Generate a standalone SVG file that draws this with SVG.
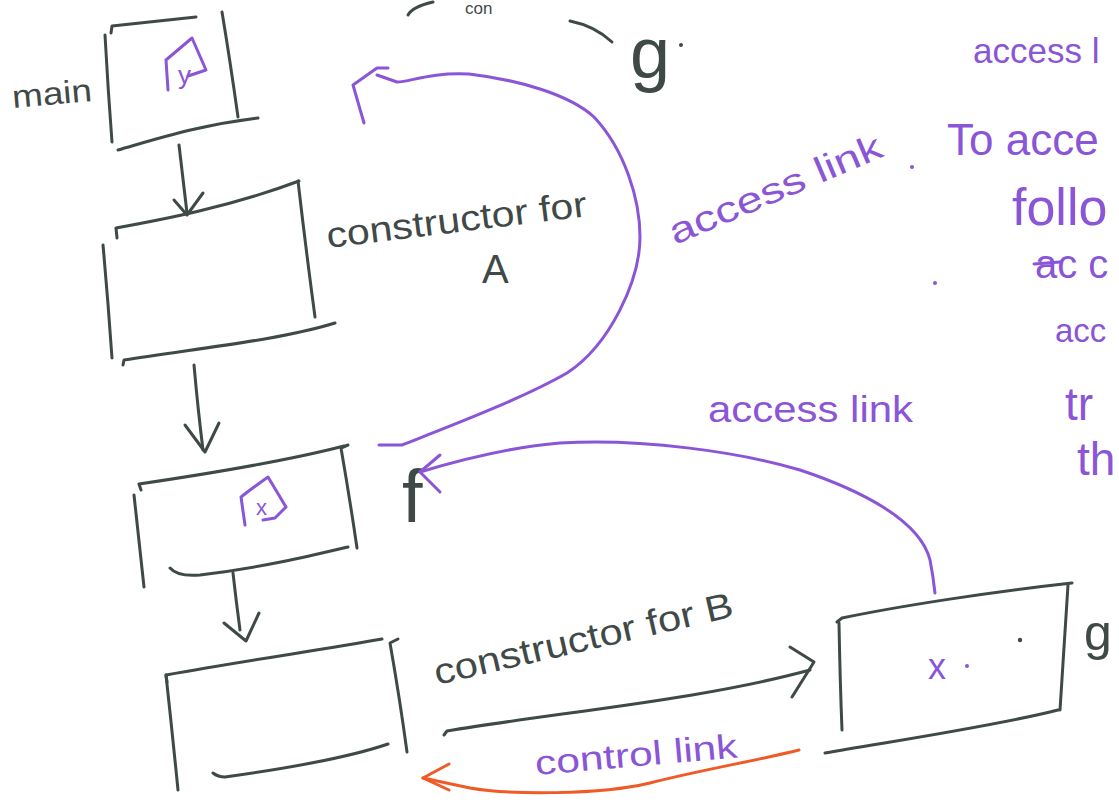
<svg xmlns="http://www.w3.org/2000/svg" width="1119" height="802" viewBox="0 0 1119 802">
  <style>
    .ink { fill: none; stroke: #3f4a48; stroke-width: 3; stroke-linecap: round; stroke-linejoin: round; }
    .pen { fill: none; stroke: #8a55d6; stroke-width: 3; stroke-linecap: round; stroke-linejoin: round; }
    .red { fill: none; stroke: #ef5a26; stroke-width: 3; stroke-linecap: round; stroke-linejoin: round; }
    .t  { font-family: "Liberation Sans", "DejaVu Sans", sans-serif; }
    .td { fill: #3f4a48; }
    .tp { fill: #8a55d6; }
  </style>
  <rect width="1119" height="802" fill="#ffffff"/>

  <!-- stray strokes along the top edge -->
  <g id="top-scraps">
    <path class="ink" d="M408,15 Q412,7 433,2"/>
    <text class="t td" x="465" y="14" font-size="17">con</text>
    <path class="ink" d="M570,21 Q595,26 612,42"/>
    <text class="t td" x="630" y="78" font-size="72">g</text>
    <circle cx="681" cy="45" r="2" fill="#3f4a48"/>
  </g>

  <!-- activation record: main -->
  <g id="main">
    <text class="t td" x="13" y="108" font-size="32" textLength="80" lengthAdjust="spacingAndGlyphs" transform="rotate(-5 13 108)">main</text>
    <path class="ink" d="M105,35 Q108,90 112,142"/>
    <path class="ink" d="M111,33 L112,26 Q150,22 196,17"/>
    <path class="ink" d="M222,12 Q230,60 238,117"/>
    <path class="ink" d="M118,150 C160,138 200,125 258,118"/>
    <path class="pen" d="M168,90 L166,60 L192,38 L206,70 L188,76"/>
    <text class="t tp" x="178" y="84" font-size="26">y</text>
  </g>

  <!-- activation record: constructor for A -->
  <g id="ctor-a">
    <path class="ink" d="M117,238 L116,228 C160,220 230,207 299,181"/>
    <path class="ink" d="M298,181 Q306,250 315,317"/>
    <path class="ink" d="M103,245 Q108,300 112,358"/>
    <path class="ink" d="M123,365 L124,360 C200,348 280,340 335,323"/>
    <text class="t td" x="328" y="248" font-size="36" textLength="262" lengthAdjust="spacingAndGlyphs" transform="rotate(-7 328 248)">constructor for</text>
    <text class="t td" x="482" y="283" font-size="40">A</text>
  </g>

  <!-- activation record: f -->
  <g id="f">
    <path class="ink" d="M141,490 L139,484 C200,475 290,460 344,446"/>
    <path class="ink" d="M348,445 L341,448 Q350,500 357,548"/>
    <path class="ink" d="M134,495 Q139,540 144,587"/>
    <path class="ink" d="M170,568 Q178,577 200,575 C260,568 310,556 348,547"/>
    <path class="pen" d="M245,525 L241,497 L250,490 L268,477 L286,507 L275,518 L263,520"/>
    <text class="t tp" x="256" y="515" font-size="22">x</text>
    <text class="t td" x="402" y="522" font-size="74">f</text>
  </g>

  <!-- activation record: constructor for B -->
  <g id="ctor-b">
    <path class="ink" d="M167,682 L166,675 C250,660 320,650 382,639"/>
    <path class="ink" d="M398,639 L390,643 Q400,700 407,752"/>
    <path class="ink" d="M166,675 Q172,730 178,790"/>
    <path class="ink" d="M213,773 Q218,777 225,777 C290,768 350,757 388,744"/>
    <text class="t td" x="437" y="685" font-size="36" textLength="306" lengthAdjust="spacingAndGlyphs" transform="rotate(-13 437 685)">constructor for B</text>
  </g>

  <!-- activation record: g -->
  <g id="g">
    <path class="ink" d="M837,622 L842,618 C900,606 990,592 1072,583"/>
    <path class="ink" d="M1068,585 Q1064,650 1060,710"/>
    <path class="ink" d="M839,623 Q840,680 842,730"/>
    <path class="ink" d="M825,753 C900,740 1000,725 1058,710"/>
    <text class="t tp" x="928" y="679" font-size="36">x</text>
    <circle cx="967" cy="666" r="2" fill="#8a55d6"/>
    <circle cx="1020" cy="640" r="2.2" fill="#3f4a48"/>
    <text class="t td" x="1084" y="650" font-size="50">g</text>
  </g>

  <!-- links between records -->
  <g id="connectors">
    <!-- call chain -->
    <path class="ink" d="M179,145 Q183,180 187,213"/>
    <path class="ink" d="M174,200 L187,215 L203,193"/>
    <path class="ink" d="M194,365 Q198,410 203,450"/>
    <path class="ink" d="M185,425 L205,452 L219,423"/>
    <path class="ink" d="M233,573 Q236,600 240,630"/>
    <path class="ink" d="M224,623 L246,641 L259,613"/>
    <path class="ink" d="M444,735 L447,731 C560,712 700,700 810,670"/>
    <path class="ink" d="M790,647 L814,662 L792,697"/>

    <!-- access link from f back up to main -->
    <path class="pen" d="M379,445 L402,445 C440,430 520,400 567,373 C610,345 640,280 640,237 C640,200 625,150 594,117 C570,95 520,80 469,74 C430,72 410,82 397,82 L377,75"/>
    <path class="pen" d="M388,68 L377,68 L353,85 L364,123"/>

    <!-- access link from g to f -->
    <path class="pen" d="M935,593 Q933,575 930,560 C920,520 860,490 800,470 C740,452 640,438 560,443 C510,447 460,460 420,472"/>
    <path class="pen" d="M440,455 L420,472 L440,492"/>

    <!-- control link from g back to constructor for B -->
    <path class="red" d="M799,750 C760,760 700,770 650,783 C600,795 510,795 470,788 L423,778"/>
    <path class="red" d="M449,764 L423,778 L449,790"/>
  </g>

  <!-- link labels and notes -->
  <g id="labels">
    <text class="t tp" x="675" y="245" font-size="36" textLength="228" lengthAdjust="spacingAndGlyphs" transform="rotate(-23 675 245)">access link</text>
    <circle cx="912" cy="167" r="2" fill="#8a55d6"/>
    <text class="t tp" x="708" y="422" font-size="36" textLength="205" lengthAdjust="spacingAndGlyphs">access link</text>
    <text class="t tp" x="536" y="775" font-size="34" textLength="203" lengthAdjust="spacingAndGlyphs" transform="rotate(-5 536 775)">control link</text>

    <text class="t tp" x="973" y="63" font-size="35">access l</text>
    <text class="t tp" x="947" y="155" font-size="44">To acce</text>
    <text class="t tp" x="1012" y="225" font-size="52">follo</text>
    <text class="t tp" x="1035" y="278" font-size="40">ac c</text>
    <path class="pen" d="M1034,264 L1060,262"/>
    <circle cx="935" cy="283" r="2" fill="#8a55d6"/>
    <text class="t tp" x="1055" y="342" font-size="33">acc</text>
    <text class="t tp" x="1065" y="420" font-size="46">tr</text>
    <text class="t tp" x="1077" y="475" font-size="46">th</text>
  </g>
</svg>
